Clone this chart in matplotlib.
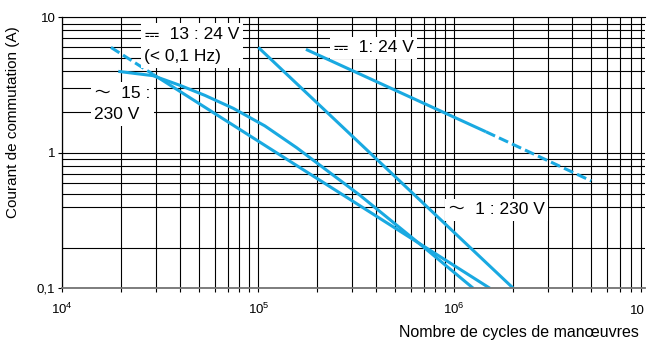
import matplotlib
matplotlib.use("Agg")
import matplotlib.pyplot as plt
from matplotlib import font_manager
from matplotlib.ft2font import FT2Font
from matplotlib.ticker import FixedLocator, FixedFormatter, LogFormatterSciNotation, NullFormatter

plt.rcParams['font.family'] = ['Liberation Sans', 'DejaVu Sans']
plt.rcParams['mathtext.fontset'] = 'custom'
plt.rcParams['mathtext.rm'] = 'Liberation Sans'
plt.rcParams['mathtext.default'] = 'regular'

# --- data (cycles, current in A) ---
dc13_dash_x = [1.77e4, 2.9e4]
dc13_dash_y = [6.0, 3.8]
dc13_x = [2.9e4, 1.52e6]
dc13_y = [3.8, 0.1]

ac15_x = [1.93e4, 2.35e4, 2.9e4, 4.0e4, 5.35e4, 7.45e4, 1.08e5, 1.57e5, 3.3e5, 6.9e5, 1.25e6]
ac15_y = [3.99, 3.85, 3.71, 3.14, 2.65, 2.13, 1.58, 1.09, 0.486, 0.204, 0.1]

ac1_x = [1.0e5, 2.0e6]
ac1_y = [6.0, 0.1]

dc1_x = [1.75e5, 1.45e6]
dc1_y = [5.8, 1.43]
dc1_dash_x = [1.45e6, 5.0e6]
dc1_dash_y = [1.43, 0.62]

x_major = [1e4, 1e5, 1e6]
x_minor = [m * d for d in (1e4, 1e5, 1e6) for m in range(2, 10)]
y_major = [0.1, 1, 10]
y_major_labels = ["0,1", "1", "10"]
y_minor = [0.2, 0.4, 0.5, 0.6, 0.7, 0.8, 0.9, 2, 3, 4, 5, 6, 7, 8, 9]

W, H = 656, 345
blue = '#19a9e1'
lw = 2.2
DC = "\u2393"
AC = "\uff5e"


def font_with(char):
    # look for an installed font that really has the glyph
    for f in font_manager.fontManager.ttflist:
        try:
            if ord(char) in FT2Font(f.fname).get_charmap():
                return f.name
        except Exception:
            pass
    return 'DejaVu Sans'


fams = ['Liberation Sans', font_with(DC), font_with(AC), 'DejaVu Sans']

fig = plt.figure(figsize=(W / 100, H / 100), dpi=100)
ax = fig.add_axes([62.3 / W, 1 - 288.3 / H, (645.3 - 62.3) / W, (288.3 - 17.3) / H])
ax.set_xscale('log')
ax.set_yscale('log')
ax.set_xlim(1e4, 9.43e6)
ax.set_ylim(0.1, 10)

ax.xaxis.set_major_locator(FixedLocator(x_major))
ax.xaxis.set_minor_locator(FixedLocator(x_minor))
ax.xaxis.set_major_formatter(LogFormatterSciNotation())
ax.xaxis.set_minor_formatter(NullFormatter())
ax.yaxis.set_major_locator(FixedLocator(y_major))
ax.yaxis.set_major_formatter(FixedFormatter(y_major_labels))
ax.yaxis.set_minor_locator(FixedLocator(y_minor))
ax.yaxis.set_minor_formatter(NullFormatter())

ax.grid(True, which='both', color='black', linewidth=0.8)
ax.tick_params(axis='x', which='both', length=3, width=0.8, direction='out', pad=7, labelsize=9.5)
ax.tick_params(axis='y', which='major', length=3, width=0.8, pad=2, labelsize=9.5)
ax.tick_params(axis='y', which='minor', length=0)
ax.spines['right'].set_visible(False)
ax.spines['top'].set_linewidth(0.8)
ax.spines['left'].set_linewidth(0.9)
ax.spines['bottom'].set_color('0.45')
ax.spines['bottom'].set_linewidth(1.3)

dash = (0, (3.3, 1.4))
ax.plot(dc13_dash_x, dc13_dash_y, color=blue, lw=lw, linestyle=dash, solid_capstyle='butt')
ax.plot(dc13_x, dc13_y, color=blue, lw=lw, solid_capstyle='butt')
ax.plot(ac15_x, ac15_y, color=blue, lw=lw, solid_capstyle='butt')
ax.plot(ac1_x, ac1_y, color=blue, lw=lw, solid_capstyle='butt')
ax.plot(dc1_x, dc1_y, color=blue, lw=lw, solid_capstyle='butt')
ax.plot(dc1_dash_x, dc1_dash_y, color=blue, lw=lw, linestyle=dash, solid_capstyle='butt')

box = dict(facecolor='white', edgecolor='none', pad=2.5)
fs = 12.5
fig.text(144 / W, 1 - 45.5 / H, DC + "  13 : 24 V\n(< 0,1 Hz)", fontsize=fs, family=fams,
         ha='left', va='center', linespacing=1.62, bbox=box, zorder=5)
fig.text(94 / W, 1 - 104 / H, AC + "  15 :\n230 V", fontsize=fs, family=fams,
         ha='left', va='center', linespacing=1.55, bbox=box, zorder=5)
fig.text(333 / W, 1 - 48 / H, DC + "  1: 24 V", fontsize=fs, family=fams,
         ha='left', va='center', bbox=box, zorder=5)
fig.text(448 / W, 1 - 210 / H, AC + "  1 : 230 V", fontsize=fs, family=fams,
         ha='left', va='center', bbox=box, zorder=5)

# 10^7 label cut off at the right edge in the original
fig.text(645 / W, 1 - 311 / H, "10", fontsize=9.5, ha='right', va='center')

fig.text(13 / W, 1 - 122.5 / H, "Courant de commutation (A)", fontsize=11, rotation=90,
         ha='center', va='center')
fig.text(639 / W, 1 - 332 / H, "Nombre de cycles de manœuvres", fontsize=11.5,
         ha='right', va='center')

fig.savefig("out.png", dpi=100, facecolor='white')
